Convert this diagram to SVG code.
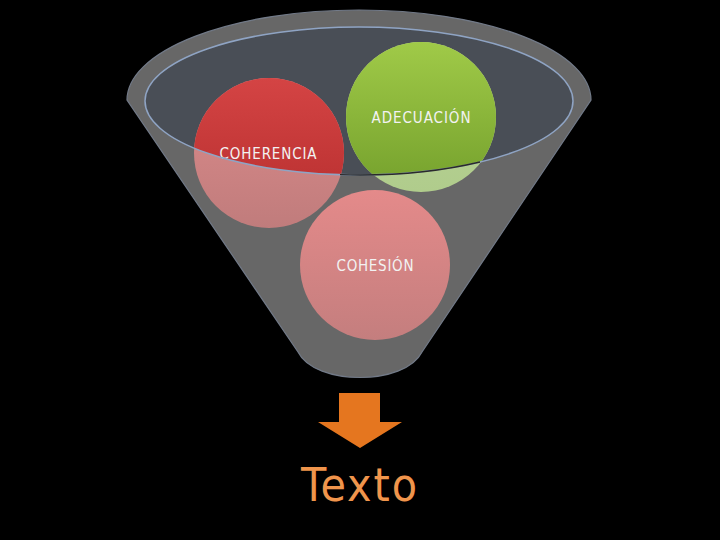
<svg xmlns="http://www.w3.org/2000/svg" width="720" height="540" viewBox="0 0 720 540">
<defs>
<style>
.lbl{font-family:"DejaVu Sans Condensed","DejaVu Sans","Liberation Sans",sans-serif;font-size:15px;fill:#f2f2f2;text-anchor:middle}
.big{font-family:"DejaVu Sans Condensed","DejaVu Sans","Liberation Sans",sans-serif;font-size:46px;fill:#f0954c;text-anchor:middle}
</style>
<clipPath id="inner"><ellipse cx="359" cy="101" rx="214" ry="74"/></clipPath>
<linearGradient id="red" x1="0" y1="0" x2="0" y2="1"><stop offset="0" stop-color="#d44444"/><stop offset="1" stop-color="#b42c2c"/></linearGradient>
<linearGradient id="redL" x1="0" y1="0" x2="0" y2="1"><stop offset="0" stop-color="#de8c8c"/><stop offset="1" stop-color="#c07c7c"/></linearGradient>
<linearGradient id="green" x1="0" y1="0" x2="0" y2="1"><stop offset="0" stop-color="#a0ca48"/><stop offset="1" stop-color="#74a02c"/></linearGradient>
<linearGradient id="greenL" x1="0" y1="0" x2="0" y2="1"><stop offset="0" stop-color="#bcd49a"/><stop offset="1" stop-color="#b0cc8c"/></linearGradient>
<linearGradient id="pink" x1="0" y1="0" x2="0" y2="1"><stop offset="0" stop-color="#e48a8a"/><stop offset="1" stop-color="#c47e7e"/></linearGradient>
</defs>
<rect width="720" height="540" fill="#000"/>
<g id="funnel">
<path d="M127,100 A232,90 0 0 1 591,100 L422,352 C405,386 315,386 298,352 Z" fill="#676767" stroke="#727a88" stroke-width="1.2"/>
<ellipse cx="359" cy="101" rx="214" ry="74" fill="#494e56"/>
</g>
<g id="coherencia">
<circle cx="269" cy="153" r="75" fill="url(#redL)"/>
<circle cx="269" cy="153" r="75" fill="url(#red)" clip-path="url(#inner)"/>
<text class="lbl" x="268" y="159" textLength="97" lengthAdjust="spacing">COHERENCIA</text>
</g>
<g id="adecuacion">
<circle cx="421" cy="117" r="75" fill="url(#greenL)"/>
<circle cx="421" cy="117" r="75" fill="url(#green)" clip-path="url(#inner)"/>
<text class="lbl" x="421" y="123" textLength="99" lengthAdjust="spacing">ADECUACIÓN</text>
</g>
<g id="rim">
<ellipse cx="359" cy="101" rx="214" ry="74" fill="none" stroke="#8fa4c4" stroke-width="1.5"/>
<path d="M340,174.7 A214,74 0 0 0 480,162" fill="none" stroke="#2a2a2a" stroke-width="1.3"/>
</g>
<g id="cohesion">
<circle cx="375" cy="265" r="75" fill="url(#pink)"/>
<text class="lbl" x="375" y="271" textLength="77" lengthAdjust="spacing">COHESIÓN</text>
</g>
<g id="connectors">
<path d="M339,393 H380 V422 H402 L360,448 L318,422 H339 Z" fill="#e5761f"/>
</g>
<g id="texto">
<text class="big" x="359" y="501" textLength="116" lengthAdjust="spacing">Texto</text>
</g>
</svg>
